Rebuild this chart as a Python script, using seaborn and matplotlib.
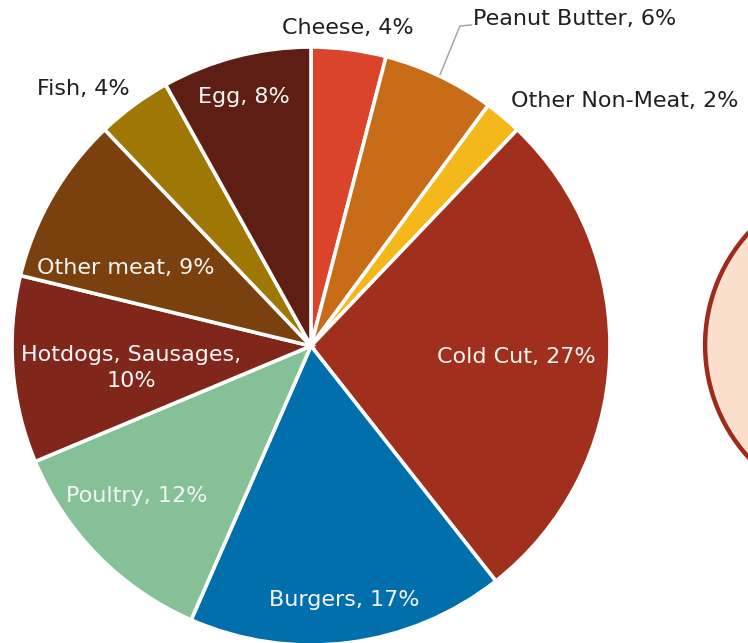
import matplotlib
matplotlib.use("Agg")
import matplotlib.pyplot as plt
from matplotlib.patches import Circle
import seaborn as sns

# Share of sandwich fillings, clockwise from 12 o'clock
categories = ["Cheese", "Peanut Butter", "Other Non-Meat", "Cold Cut", "Burgers",
              "Poultry", "Hotdogs, Sausages", "Other meat", "Fish", "Egg"]
shares = [4, 6, 2, 27, 17, 12, 10, 9, 4, 8]
label_texts = ["Cheese, 4%", "Peanut Butter, 6%", "Other Non-Meat, 2%", "Cold Cut, 27%",
               "Burgers, 17%", "Poultry, 12%", "Hotdogs, Sausages,\n10%", "Other meat, 9%",
               "Fish, 4%", "Egg, 8%"]

colors = ["#D9442A", "#C96C17", "#F5B81B", "#A0301D", "#006FAB",
          "#85C096", "#80261A", "#7A410F", "#9E7705", "#5E1E13"]

# label anchor points (data units, pie radius = 1) and whether they sit on the slice
label_pos = [(0.124, 1.065), (0.883, 1.095), (1.050, 0.819), (0.686, -0.037),
             (0.110, -0.849), (-0.582, -0.502), (-0.602, -0.074), (-0.619, 0.261),
             (-0.763, 0.860), (-0.224, 0.833)]
inside = [False, False, False, True, True, True, True, True, False, True]

sns.set_theme(style="white")
plt.rcParams["font.family"] = ["DejaVu Sans"]

W, H = 748, 643
fig = plt.figure(figsize=(W / 100, H / 100), dpi=100)
cx, cy, R = 311, 346, 299
ax = fig.add_axes([(cx - R) / W, (H - cy - R) / H, 2 * R / W, 2 * R / H])

ax.pie(shares, colors=colors, startangle=90, counterclock=False, radius=1,
       wedgeprops=dict(edgecolor="white", linewidth=2.6), normalize=True)
ax.set_xlim(-1, 1)
ax.set_ylim(-1, 1)
ax.set_aspect("equal")
ax.axis("off")

for txt, (x, y), ins in zip(label_texts, label_pos, inside):
    ax.text(x, y, txt, ha="center", va="center", fontsize=16,
            color="#F6F6F6" if ins else "#1F1F1F", linespacing=1.35, clip_on=False)

# leader line for the Peanut Butter label
ax.plot([0.431, 0.498, 0.538], [0.906, 1.070, 1.074], color="#A6A6A6", lw=1.1,
        clip_on=False, solid_capstyle="butt")

# adjacent panel bubble, cut off by the right edge
ax.add_patch(Circle((1.876, 0.003), 0.558, facecolor="#FAE0CC", edgecolor="#9E2A1C",
                    linewidth=3.2, clip_on=False))

fig.savefig("out.png", dpi=100)
